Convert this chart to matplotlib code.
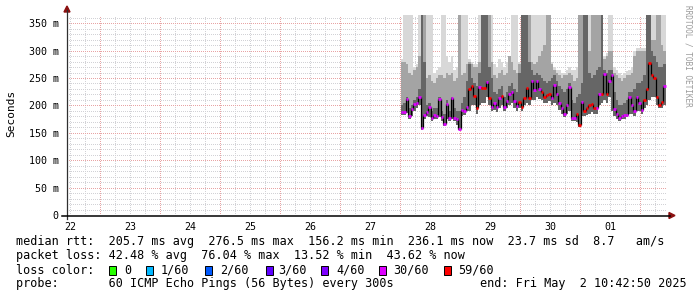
import matplotlib
matplotlib.use("Agg")
import matplotlib.pyplot as plt
import numpy as np
from matplotlib.lines import Line2D
from matplotlib.patches import Polygon, Rectangle

W, H = 697, 297

# one value per hour, first step starts Apr 28 ~00:18 (hours since Apr 22 00:00)
t_start = 144.3

# median rtt in ms
median = [188, 188, 211, 181, 194, 202, 205, 216, 158, 183,
          188, 198, 177, 183, 180, 212, 178, 166, 202, 177,
          213, 177, 176, 157, 192, 190, 198, 230, 235, 217,
          195, 234, 232, 232, 243, 214, 197, 204, 197, 214,
          217, 197, 208, 220, 225, 208, 199, 207, 198, 213,
          231, 213, 245, 228, 245, 230, 225, 216, 219, 221,
          213, 237, 220, 205, 196, 184, 200, 234, 177, 177,
          184, 164, 206, 190, 195, 200, 202, 195, 195, 220,
          220, 257, 220, 245, 256, 193, 185, 177, 181, 182,
          183, 215, 200, 190, 216, 204, 192, 209, 230, 277,
          256, 250, 216, 201, 207, 236]

# lost pings out of 60
loss = [22, 20, 24, 18, 21, 25, 19, 23, 28, 17,
        20, 26, 15, 22, 19, 24, 21, 27, 18, 23,
        25, 20, 16, 28, 22, 19, 24, 36, 38, 34,
        41, 27, 35, 39, 26, 37, 23, 21, 25, 28,
        34, 20, 24, 22, 26, 19, 29, 33, 40, 42,
        37, 35, 27, 24, 26, 22, 36, 38, 34, 40,
        25, 21, 23, 28, 19, 24, 22, 26, 18, 20,
        33, 44, 27, 39, 35, 37, 42, 36, 29, 24,
        38, 28, 35, 23, 26, 21, 18, 14, 20, 17,
        22, 19, 24, 16, 21, 25, 20, 36, 40, 46,
        39, 42, 37, 34, 38, 26]

# smoke: bottom, and tops of dark / mid / light bands (ms)
smoke_lo = [182, 182, 186, 176, 180, 190, 195, 200, 155, 175,
            180, 178, 172, 175, 175, 178, 172, 162, 175, 172,
            175, 172, 165, 155, 180, 182, 190, 190, 200, 200,
            185, 200, 205, 205, 215, 200, 190, 192, 188, 195,
            200, 190, 195, 200, 205, 195, 190, 195, 190, 200,
            205, 200, 210, 210, 215, 212, 210, 205, 205, 208,
            200, 205, 200, 192, 185, 178, 185, 190, 172, 172,
            170, 160, 180, 180, 182, 185, 188, 185, 185, 200,
            205, 210, 205, 215, 190, 180, 176, 172, 175, 175,
            178, 185, 185, 180, 190, 190, 185, 195, 200, 210,
            215, 215, 200, 195, 195, 200]
smoke_dark = [200, 205, 215, 195, 200, 210, 215, 230, 365, 280,
              200, 205, 190, 195, 195, 215, 190, 185, 210, 190,
              215, 195, 190, 190, 205, 215, 245, 275, 250, 240,
              235, 260, 365, 365, 365, 270, 250, 225, 220, 230,
              235, 215, 225, 235, 240, 230, 225, 260, 365, 365,
              365, 280, 265, 255, 260, 255, 250, 245, 240, 245,
              250, 255, 245, 235, 230, 225, 230, 240, 210, 205,
              215, 220, 240, 365, 365, 260, 250, 255, 265, 270,
              365, 265, 260, 265, 265, 225, 210, 200, 200, 205,
              210, 225, 225, 230, 240, 240, 245, 255, 365, 365,
              300, 290, 280, 270, 270, 275]
smoke_mid = [280, 280, 275, 260, 255, 265, 270, 290, 365, 365,
             250, 255, 245, 240, 250, 255, 255, 250, 260, 255,
             260, 245, 250, 365, 255, 260, 275, 280, 275, 270,
             270, 280, 365, 365, 365, 365, 280, 255, 250, 260,
             265, 255, 260, 290, 280, 265, 260, 275, 365, 365,
             365, 365, 280, 275, 280, 290, 300, 310, 365, 365,
             275, 265, 260, 255, 250, 255, 255, 260, 255, 245,
             250, 365, 365, 365, 365, 300, 365, 365, 365, 365,
             365, 285, 290, 300, 300, 260, 255, 250, 245, 250,
             255, 255, 260, 290, 300, 300, 300, 300, 365, 365,
             320, 320, 365, 365, 310, 300]
smoke_light = [285, 365, 365, 365, 365, 270, 275, 365, 365, 365,
               365, 365, 365, 260, 265, 270, 365, 365, 290, 280,
               290, 265, 270, 365, 365, 365, 365, 285, 280, 275,
               275, 365, 365, 365, 365, 365, 365, 275, 270, 285,
               280, 270, 280, 290, 365, 365, 365, 280, 365, 365,
               365, 365, 365, 365, 365, 365, 365, 365, 365, 365,
               280, 270, 265, 265, 260, 260, 265, 270, 265, 265,
               270, 365, 365, 365, 365, 365, 365, 365, 365, 365,
               365, 290, 295, 365, 365, 270, 265, 260, 255, 260,
               262, 265, 270, 300, 305, 305, 305, 305, 365, 365,
               365, 365, 365, 365, 365, 365]

day_labels = ["22", "23", "24", "25", "26", "27", "28", "29", "30", "01"]
y_ticks = [0, 50, 100, 150, 200, 250, 300, 350]
y_labels = ["0", "50 m", "100 m", "150 m", "200 m", "250 m", "300 m", "350 m"]

loss_keys = ["0", "1/60", "2/60", "3/60", "4/60", "30/60", "59/60"]
loss_colors = ["#26ff00", "#00b8ff", "#0059ff", "#5e00ff", "#7e00ff", "#dd00ff", "#ff0000"]


def loss_color(n):
    if n <= 4:
        return loss_colors[n]
    if n <= 30:
        return loss_colors[5]
    return loss_colors[6]


def fx(x):
    return x / W


def fy(y):
    return 1 - y / H


mono = "DejaVu Sans Mono"
plt.rcParams["font.family"] = mono

fig = plt.figure(figsize=(W / 100, H / 100), dpi=100, facecolor="white")
ax = fig.add_axes([fx(67), fy(215), 600 / W, 200 / H])
ax.set_facecolor("white")
x_left, x_right = 10.714, 250.714
ax.set_xlim(x_left, x_right)
ax.set_ylim(0, 365)
for s in ax.spines.values():
    s.set_visible(False)

t = t_start + np.arange(len(median))
lo = np.array(smoke_lo)

# grid (1px dots), under the smoke
dot = (0, (0.6, 1.4))
grid_kw = dict(lw=0.72, ls=dot, antialiased=False)
for h in range(12, 251, 6):
    if h % 24 == 0:
        continue
    ax.axvline(h, color="#d2d2d6", zorder=1, **grid_kw)
for v in range(10, 365, 10):
    if v % 50 == 0:
        continue
    ax.axhline(v, color="#d2d2d6", zorder=1, **grid_kw)
for h in range(24, 250, 24):
    ax.axvline(h, color="#e8a4a4", zorder=1.5, **grid_kw)
for v in y_ticks[1:]:
    ax.axhline(v, color="#e8a4a4", zorder=1.5, **grid_kw)

# smoke
ax.bar(t, np.array(smoke_light) - lo, bottom=lo, width=1.0, align="edge",
       color="#d8d8d8", linewidth=0, zorder=2)
ax.bar(t, np.array(smoke_mid) - lo, bottom=lo, width=1.0, align="edge",
       color="#a4a4a4", linewidth=0, zorder=3)
ax.bar(t, np.array(smoke_dark) - lo, bottom=lo, width=1.0, align="edge",
       color="#666666", linewidth=0, zorder=4)

# median line
med = np.array(median)
ax.vlines(t[1:], med[:-1], med[1:], color="black", lw=0.9, zorder=7)
ax.hlines(med, t, t + 1.0, colors=[loss_color(n) for n in loss], lw=2.0, zorder=8)

# ticks
ax.set_xticks([12 + 24 * k for k in range(len(day_labels))])
ax.set_xticklabels(day_labels)
ax.set_yticks(y_ticks)
ax.set_yticklabels(y_labels)
ax.tick_params(length=0, labelsize=7.2, colors="black")
ax.tick_params(axis="y", pad=6)
ax.tick_params(axis="x", pad=5)

# axis lines with arrows
fig.add_artist(Line2D([fx(67), fx(67)], [fy(219), fy(10)], color="#303030", lw=0.9))
fig.add_artist(Line2D([fx(62), fx(670)], [fy(215.5), fy(215.5)], color="black", lw=1.1))
fig.add_artist(Polygon([[fx(64), fy(12)], [fx(70), fy(12)], [fx(67), fy(6)]],
                       closed=True, color="#8b1010", transform=fig.transFigure))
fig.add_artist(Polygon([[fx(669), fy(212.5)], [fx(669), fy(218.5)], [fx(675), fy(215.5)]],
                       closed=True, color="#8b1010", transform=fig.transFigure))

fig.text(fx(11), fy(113), "Seconds", rotation=90, ha="center", va="center", fontsize=8)
fig.text(fx(688), fy(5), "RRDTOOL / TOBI OETIKER", rotation=270, ha="center", va="top",
         fontsize=5.6, color="#9a9a9a")

# legend
fs = 8.5
fig.text(fx(16), fy(241), "median rtt:  205.7 ms avg  276.5 ms max  156.2 ms min  236.1 ms now  23.7 ms sd  8.7   am/s",
         ha="left", va="center", fontsize=fs)
fig.text(fx(16), fy(256), "packet loss: 42.48 % avg  76.04 % max  13.52 % min  43.62 % now",
         ha="left", va="center", fontsize=fs)
fig.text(fx(16), fy(270), "loss color:", ha="left", va="center", fontsize=fs)
sw_x = [109, 146, 205, 266, 321, 379, 444]
lab_x = [124, 161, 220, 278, 336, 393, 458]
for c, k, sx, lx in zip(loss_colors, loss_keys, sw_x, lab_x):
    fig.add_artist(Rectangle((fx(sx), fy(274.5)), 7 / W, 9 / H, facecolor=c,
                             edgecolor="black", lw=0.7, transform=fig.transFigure))
    fig.text(fx(lx), fy(270), k, ha="left", va="center", fontsize=fs)
fig.text(fx(16), fy(284), "probe:       60 ICMP Echo Pings (56 Bytes) every 300s",
         ha="left", va="center", fontsize=fs)
fig.text(fx(480), fy(284), "end: Fri May  2 10:42:50 2025", ha="left", va="center", fontsize=fs)

fig.savefig("out.png", dpi=100, facecolor="white")
